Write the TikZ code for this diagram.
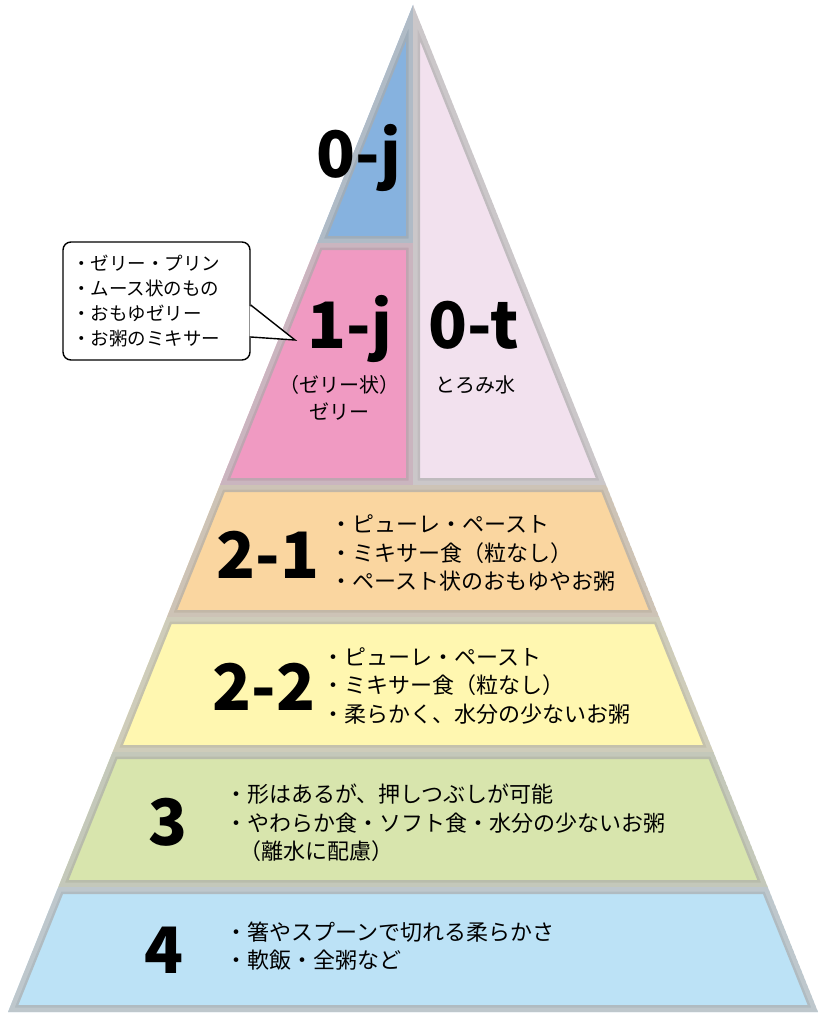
\documentclass[tikz,border=0pt]{standalone}
\usepackage{fontspec}
\setmainfont{Noto Sans CJK JP}
\usetikzlibrary{calc}
\definecolor{cBlue}{HTML}{86B2DF}
\definecolor{cPink}{HTML}{F09AC2}
\definecolor{cLav}{HTML}{F2E1EE}
\definecolor{cOrange}{HTML}{FAD6A0}
\definecolor{cYellow}{HTML}{FFF7B0}
\definecolor{cGreen}{HTML}{D8E5AD}
\definecolor{cSky}{HTML}{BCE2F6}
\definecolor{cBevel}{HTML}{ABABAB}
\newcommand\pyrlayer[2]{%
  \begin{scope}
    \clip #2;
    \fill[#1] #2;
    \draw[bevelline] #2;
    \draw[bevelmid] #2;
  \end{scope}}
\tikzset{
  bevelline/.style={draw=cBevel, draw opacity=0.7, line width=14pt, line join=miter},
  bevelmid/.style={draw=white, draw opacity=0.18, line width=9pt, line join=miter},
  biglabel/.style={font=\fontsize{64}{64}\selectfont\bfseries, inner sep=0pt, anchor=base},
  bodytext/.style={font=\fontsize{22}{28.5}\selectfont, align=left, inner sep=0pt, anchor=west},
  subtext/.style={font=\fontsize{20}{27}\selectfont, align=center, inner sep=0pt},
  calloutbox/.style={draw=black, line width=1.4pt, fill=white, rounded corners=8pt,
     font=\fontsize{18.5}{25}\selectfont, align=left, inner xsep=9pt, inner ysep=0pt,
     text width=169pt, minimum height=118pt},
}
\begin{document}
\begin{tikzpicture}[x=1pt,y=-1pt]
\useasboundingbox (0,0) rectangle (819,1014);
% layers
\pyrlayer{cBlue}{(413,5) -- (413,243) -- (317.3,243) -- cycle}
\pyrlayer{cPink}{(317.3,243) -- (413,243) -- (413,485) -- (220,485) -- cycle}
\pyrlayer{cLav}{(413,5) -- (606.1,485) -- (413,485) -- cycle}
\pyrlayer{cOrange}{(220,485) -- (606.1,485) -- (659.1,617) -- (166.9,617) -- cycle}
\pyrlayer{cYellow}{(166.9,617) -- (659.1,617) -- (713.4,752) -- (112.6,752) -- cycle}
\pyrlayer{cGreen}{(112.6,752) -- (713.4,752) -- (767.7,887) -- (58.3,887) -- cycle}
\pyrlayer{cSky}{(58.3,887) -- (767.7,887) -- (818,1012) -- (8,1012) -- cycle}
% big labels
\node[biglabel] (l0j) at (359,177) {0-j};
\node[biglabel] (l1j) at (350,348) {1-j};
\node[biglabel] (l0t) at (474,348) {0-t};
\node[biglabel] (l21) at (268,578) {2-1};
\node[biglabel] (l22) at (264,710) {2-2};
\node[biglabel] (l3) at (168,845) {3};
\node[biglabel] (l4) at (164,973) {4};
% sub texts
\node[subtext] (s1j) at (339,398) {（ゼリー状）\\ゼリー};
\node[subtext] (s0t) at (475,385) {とろみ水};
% body texts
\node[bodytext] (t21) at (330,553) {・ピューレ・ペースト\\・ミキサー食（粒なし）\\・ペースト状のおもゆやお粥};
\node[bodytext] (t22) at (322,686) {・ピューレ・ペースト\\・ミキサー食（粒なし）\\・柔らかく、水分の少ないお粥};
\node[bodytext] (t3) at (225,823) {・形はあるが、押しつぶしが可能\\・やわらか食・ソフト食・水分の少ないお粥\\\hspace*{14pt}（離水に配慮）};
\node[bodytext] (t4) at (225,946) {・箸やスプーンで切れる柔らかさ\\・軟飯・全粥など};
% callout
\node[calloutbox] (cb) at (156.5,301) {・ゼリー・プリン\\・ムース状のもの\\・おもゆゼリー\\・お粥のミキサー};
\coordinate (tip) at (295,340);
\fill[white] ($(cb.east)+(-1,5)$) -- (tip) -- ($(cb.east)+(-1,35)$) -- cycle;
\draw[line width=1.4pt, line join=miter] ($(cb.east)+(0,4)$) -- (tip) -- ($(cb.east)+(0,36)$);
\end{tikzpicture}
\end{document}
